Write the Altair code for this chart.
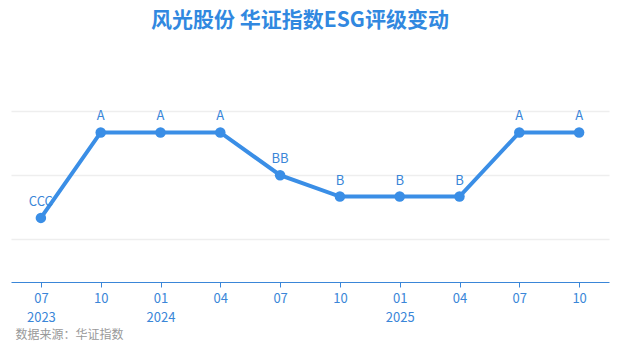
import altair as alt
import pandas as pd

months = ["07", "10", "01", "04", "07", "10", "01", "04", "07", "10"]
years = ["2023", "2023", "2024", "2024", "2024", "2024", "2025", "2025", "2025", "2025"]
ratings = ["CCC", "A", "A", "A", "BB", "B", "B", "B", "A", "A"]
scale_order = ["C", "CC", "CCC", "B", "BB", "BBB", "A", "AA", "AAA"]

keys = [f"{y}-{m}" for y, m in zip(years, months)]
show_year = [i == 0 or months[i] == "01" for i in range(len(months))]
labels = [f"{m}\n{y}" if s else m for m, y, s in zip(months, years, show_year)]
df = pd.DataFrame({
    "key": keys,
    "label": labels,
    "rating": ratings,
    "level": [scale_order.index(r) + 1 for r in ratings],
})

label_map = "{" + ",".join(f"'{k}': '{l.replace(chr(10), '|')}'" for k, l in zip(keys, labels)) + "}"

BLUE = "#3a8ee6"
TXT = "#3a86d8"
FONT = "Noto Sans CJK SC"

x = alt.X("key:N", sort=keys,
          scale=alt.Scale(type="point", padding=0.5),
          axis=alt.Axis(
              title="数据来源：华证指数",
              titleAnchor="start", titleAlign="left", titleX=4, titleY=47,
              titleBaseline="top", titleFont=FONT, titleFontSize=12,
              titleFontWeight="normal", titleColor="#999999",
              labelAngle=0, labelColor=TXT, labelFont=FONT, labelFontSize=13,
              labelPadding=5, labelLineHeight=19,
              labelExpr=f"split({label_map}[datum.value], '|')",
              domainColor=TXT, tickColor=TXT, tickSize=5, domainWidth=1,
              grid=False))
y = alt.Y("level:Q", scale=alt.Scale(domain=[0, 11], nice=False, zero=True),
          axis=alt.Axis(values=[2, 5, 8], labels=False, ticks=False, domain=False,
                        title=None, grid=True, gridColor="#eeeeee", gridWidth=1.5))

base = alt.Chart(df).encode(x=x, y=y)
line = base.mark_line(color=BLUE, strokeWidth=4)
pts = base.mark_circle(color=BLUE, size=110, opacity=1)
txt = base.mark_text(dy=-16, fontSize=13, font=FONT, color=TXT).encode(text="rating:N")

chart = (line + pts + txt).properties(
    width=598, height=235,
    autosize=alt.AutoSizeParams(type="none"),
    padding={"left": 11, "top": 47, "right": 9, "bottom": 73},
    background="white",
    title=alt.TitleParams("风光股份 华证指数ESG评级变动", anchor="middle",
                          font=FONT, fontSize=21, fontWeight="bold",
                          color="#3188e0", offset=16, dx=-10),
).configure_view(strokeWidth=0, stroke="transparent")

chart.save("out.html", embed_options={"renderer": "svg", "actions": False})
